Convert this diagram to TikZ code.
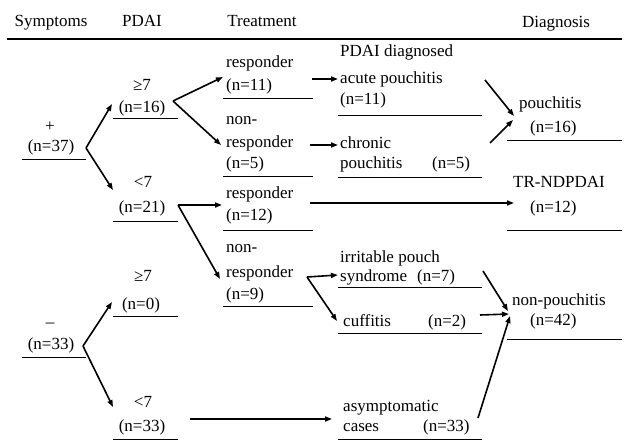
\documentclass[tikz,border=0pt]{standalone}
\usepackage{fontspec}
\setmainfont{Liberation Serif}
\usetikzlibrary{arrows.meta}
\begin{document}
\begin{tikzpicture}[x=1pt,y=-1pt,
  every node/.style={inner sep=0pt,font=\fontsize{17}{22}\selectfont,text height=12pt,text depth=4pt},
  lbl/.style={anchor=west},
  ctr/.style={anchor=center},
  uline/.style={line width=1pt},
  arr/.style={line width=1.6pt,-{Triangle[length=7pt,width=5pt]}}]
\useasboundingbox (0,0) rectangle (627,442);
% header
\node[ctr] (hsym) at (51,22) {Symptoms};
\node[ctr] (hpdai) at (142,22) {PDAI};
\node[ctr] (htreat) at (262,22) {Treatment};
\node[ctr] (hdiag) at (556,23) {Diagnosis};
\draw[line width=1.2pt] (7,39) -- (622,39);
% symptoms column
\node[ctr] (plus) at (50,127) {+};
\node[ctr] (n37) at (51,147) {(n=37)};
\draw[uline] (22,159) -- (86,159);
\node[ctr] (minus) at (50,323) {–};
\node[ctr] (n33a) at (51,345) {(n=33)};
\draw[uline] (22,357) -- (86,357);
% PDAI column
\node[ctr] (ge7a) at (142,86) {≥7};
\node[ctr] (n16a) at (142,108) {(n=16)};
\draw[uline] (113,118) -- (178,118);
\node[ctr] (lt7a) at (143,183) {<7};
\node[ctr] (n21) at (142,208) {(n=21)};
\draw[uline] (113,221) -- (178,221);
\node[ctr] (ge7b) at (143,277) {≥7};
\node[ctr] (n0) at (141,305) {(n=0)};
\draw[uline] (113,316) -- (178,316);
\node[ctr] (lt7b) at (143,403) {<7};
\node[ctr] (n33b) at (142,427) {(n=33)};
\draw[uline] (113,439) -- (178,439);
% treatment column
\node[lbl] (r1) at (226,63) {responder};
\node[lbl] (r1n) at (226,86) {(n=11)};
\draw[uline] (223,98) -- (313,98);
\node[lbl] (nr1a) at (226,120) {non-};
\node[lbl] (nr1) at (226,143) {responder};
\node[lbl] (nr1n) at (226,164) {(n=5)};
\draw[uline] (223,176) -- (313,176);
\node[lbl] (r2) at (226,194) {responder};
\node[lbl] (r2n) at (226,216) {(n=12)};
\draw[uline] (223,230) -- (313,230);
\node[lbl] (nr2a) at (226,248) {non-};
\node[lbl] (nr2) at (226,273) {responder};
\node[lbl] (nr2n) at (226,295) {(n=9)};
\draw[uline] (223,306) -- (313,306);
% outcome column
\node[lbl] (pdd) at (340,52) {PDAI diagnosed};
\node[lbl] (acute) at (340,79) {acute pouchitis};
\node[lbl] (acuten) at (340,100) {(n=11)};
\draw[uline] (338,115) -- (482,115);
\node[lbl] (chron) at (340,144) {chronic};
\node[lbl] (chron2) at (340,164) {pouchitis};
\node[lbl] (chronn) at (432,164) {(n=5)};
\draw[uline] (338,177) -- (482,177);
\node[lbl] (ips) at (340,258) {irritable pouch};
\node[lbl] (ips2) at (340,277) {syndrome};
\node[lbl] (ipsn) at (417,277) {(n=7)};
\draw[uline] (338,287) -- (482,287);
\node[lbl] (cuff) at (343,322) {cuffitis};
\node[lbl] (cuffn) at (428,322) {(n=2)};
\draw[uline] (338,333) -- (482,333);
\node[lbl] (asym) at (343,407) {asymptomatic};
\node[lbl] (asym2) at (343,427) {cases};
\node[lbl] (asymn) at (423,427) {(n=33)};
\draw[uline] (338,439) -- (482,439);
% diagnosis column
\node[lbl] (pou) at (519,104) {pouchitis};
\node[lbl] (poun) at (530,128) {(n=16)};
\draw[uline] (507,140) -- (622,140);
\node[lbl] (tr) at (513,183) {TR-NDPDAI};
\node[lbl] (trn) at (530,208) {(n=12)};
\draw[uline] (507,230) -- (622,230);
\node[lbl] (np) at (512,301) {non-pouchitis};
\node[lbl] (npn) at (530,321) {(n=42)};
\draw[uline] (507,339) -- (622,339);
% connector points
\coordinate (v37) at (86,148);
\coordinate (e16) at (112,104);
\coordinate (e21) at (113,190);
\coordinate (v16) at (173,101);
\coordinate (er1) at (223,77);
\coordinate (enr1) at (221,145);
\coordinate (v21) at (178,205);
\coordinate (er2) at (222,205);
\coordinate (enr2) at (220,279);
\coordinate (s1) at (312,79);
\coordinate (e1) at (338,79);
\coordinate (s2) at (310,145);
\coordinate (e2) at (338,145);
\coordinate (s3) at (310,203);
\coordinate (e3) at (514,203);
\coordinate (v9) at (307,277);
\coordinate (eips) at (338,275);
\coordinate (ecuf) at (337,321);
\coordinate (v33) at (83,346);
\coordinate (e0) at (112,302);
\coordinate (e33) at (113,407);
\coordinate (s4) at (190,419);
\coordinate (e4) at (332,419);
\coordinate (sa) at (485,80);
\coordinate (ea) at (514,116);
\coordinate (sc) at (490,143);
\coordinate (ec) at (513,120);
\coordinate (si) at (483,271);
\coordinate (ei) at (508,311);
\coordinate (sf) at (480,315);
\coordinate (ef) at (509,314);
\coordinate (sy) at (478,418);
\coordinate (ey) at (510,316);
% arrows
\draw[arr] (v37) -- (e16);
\draw[arr] (v37) -- (e21);
\draw[arr] (v16) -- (er1);
\draw[arr] (v16) -- (enr1);
\draw[arr] (v21) -- (er2);
\draw[arr] (v21) -- (enr2);
\draw[arr] (s1) -- (e1);
\draw[arr] (s2) -- (e2);
\draw[arr] (s3) -- (e3);
\draw[arr] (v9) -- (eips);
\draw[arr] (v9) -- (ecuf);
\draw[arr] (v33) -- (e0);
\draw[arr] (v33) -- (e33);
\draw[arr] (s4) -- (e4);
\draw[arr] (sa) -- (ea);
\draw[arr] (sc) -- (ec);
\draw[arr] (si) -- (ei);
\draw[arr] (sf) -- (ef);
\draw[arr] (sy) -- (ey);
\end{tikzpicture}
\end{document}
